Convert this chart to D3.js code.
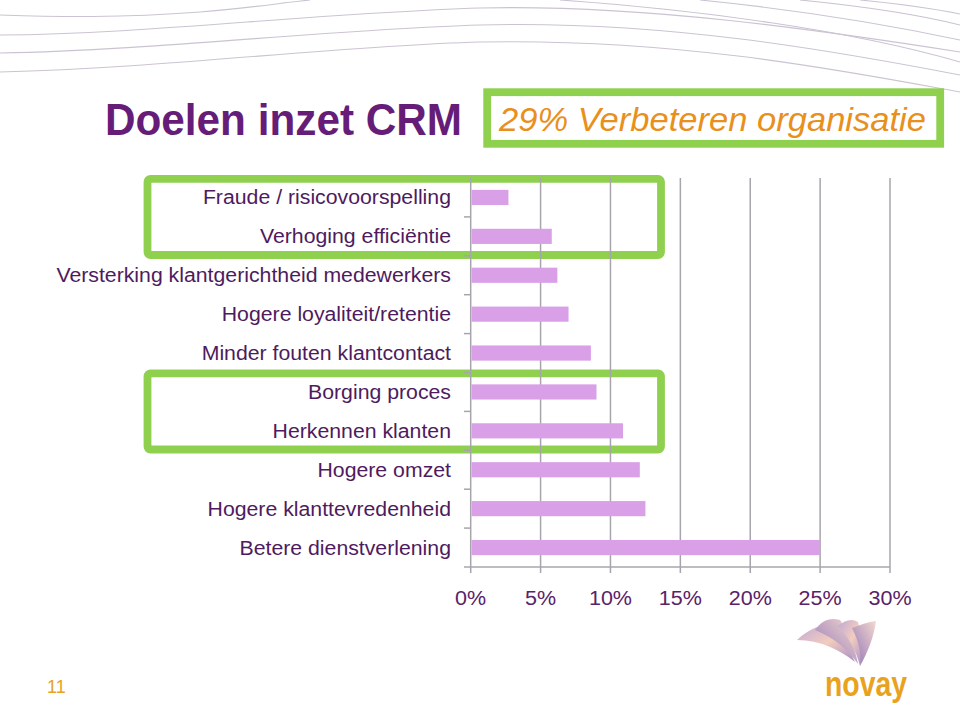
<!DOCTYPE html>
<html><head><meta charset="utf-8">
<script src="https://cdn.jsdelivr.net/npm/d3@7"></script>
<style>
html,body{margin:0;padding:0;background:#fff;}
svg{display:block;font-family:"Liberation Sans",Arial,sans-serif;}
</style></head>
<body>
<svg id="c" width="960" height="707"></svg>
<script>
// ---- data ----
const categories = [
  "Fraude / risicovoorspelling",
  "Verhoging efficiëntie",
  "Versterking klantgerichtheid medewerkers",
  "Hogere loyaliteit/retentie",
  "Minder fouten klantcontact",
  "Borging proces",
  "Herkennen klanten",
  "Hogere omzet",
  "Hogere klanttevredenheid",
  "Betere dienstverlening"
];
const values = [2.7, 5.8, 6.2, 7.0, 8.6, 9.0, 10.9, 12.1, 12.5, 25.0];
const xTicks = [0, 5, 10, 15, 20, 25, 30];
const highlightGroups = [
  ["Fraude / risicovoorspelling", "Verhoging efficiëntie"],
  ["Borging proces", "Herkennen klanten"]
];
const title = "Doelen inzet CRM";
const subtitle = "29% Verbeteren organisatie";
const pageNumber = "11";
const logoText = "novay";

// ---- drawing ----
const svg = d3.select("#c");
const purpleText = "#4e1b5e";
const green = "#8fd14f";
const gridCol = "#a8a4ac";

// stretch text horizontally to match the wide rendering of the original
function stretch(sel, factor) {
  sel.each(function () {
    const w = this.getComputedTextLength();
    d3.select(this).attr("textLength", w * factor).attr("lengthAdjust", "spacingAndGlyphs");
  });
}

// decorative background curves
const deco = svg.append("g").attr("fill", "none").attr("stroke", "#cbc3d2").attr("stroke-width", 1.1);
[
  "M0,15 C60,17 120,18 200,12 C250,8 280,3 310,0",
  "M0,35 C150,34 300,14 480,8 C640,4 820,30 960,52",
  "M0,53 C160,50 320,30 480,25 C660,20 830,50 960,75",
  "M0,72 C170,68 330,46 480,42 C680,38 850,72 960,92",
  "M560,0 C700,10 850,30 960,62",
  "M700,0 C800,10 890,25 960,40",
  "M800,0 C860,6 920,15 960,25",
  "M860,0 C900,4 935,9 960,14"
].forEach(d => deco.append("path").attr("d", d));

// Title
svg.append("text")
  .attr("x", 105).attr("y", 135)
  .attr("font-size", 45).attr("font-weight", "bold")
  .attr("fill", "#661d78")
  .attr("textLength", 357).attr("lengthAdjust", "spacingAndGlyphs")
  .text(title);

// Subtitle box
svg.append("rect")
  .attr("x", 487.2).attr("y", 92.2).attr("width", 453).attr("height", 51.6)
  .attr("fill", "#fff").attr("stroke", green).attr("stroke-width", 7.8);
svg.append("text")
  .attr("x", 499).attr("y", 131)
  .attr("font-size", 34).attr("font-style", "italic")
  .attr("fill", "#e8901c")
  .attr("textLength", 427).attr("lengthAdjust", "spacingAndGlyphs")
  .text(subtitle);

// Scales
const x = d3.scaleLinear().domain([0, 30]).range([470.7, 890]);
const y = d3.scaleBand().domain(categories).range([178, 567]).paddingInner(0.61).paddingOuter(0.305);
const step = y.step();
const yTop = 178, yBot = 567;

// gridlines
svg.append("g").selectAll("line").data(xTicks).join("line")
  .attr("x1", d => x(d)).attr("x2", d => x(d))
  .attr("y1", yTop).attr("y2", yBot)
  .attr("stroke", gridCol).attr("stroke-width", 1.5);

// bottom axis line + tick marks
svg.append("line").attr("x1", 464).attr("x2", x(30)).attr("y1", yBot).attr("y2", yBot)
  .attr("stroke", gridCol).attr("stroke-width", 1.5);
svg.append("g").selectAll("line").data(xTicks).join("line")
  .attr("x1", d => x(d)).attr("x2", d => x(d))
  .attr("y1", yBot).attr("y2", yBot + 6)
  .attr("stroke", gridCol).attr("stroke-width", 1.5);

// category tick marks
svg.append("g").selectAll("line").data(d3.range(1, categories.length)).join("line")
  .attr("x1", 464).attr("x2", x(0))
  .attr("y1", i => yTop + i * step).attr("y2", i => yTop + i * step)
  .attr("stroke", gridCol).attr("stroke-width", 1.5);

// bars
svg.append("g").selectAll("rect").data(categories).join("rect")
  .attr("x", x(0) + 0.8)
  .attr("y", d => y(d))
  .attr("width", (d, i) => x(values[i]) - x(0) - 0.8)
  .attr("height", y.bandwidth())
  .attr("fill", "#d9a0e7");

// highlight boxes
highlightGroups.forEach(g => {
  const top = y(g[0]) - y.step() * y.paddingOuter();
  const bot = y(g[g.length - 1]) + y.bandwidth() + y.step() * y.paddingInner() / 2;
  svg.insert("rect", "g")
    .attr("x", 147.5).attr("y", top + 0.8)
    .attr("width", 513.5).attr("height", bot - top - 1.6)
    .attr("rx", 3)
    .attr("fill", "none").attr("stroke", green).attr("stroke-width", 7.8);
});

// category labels
svg.append("g").selectAll("text").data(categories).join("text")
  .attr("x", 451)
  .attr("y", d => y(d) + y.bandwidth() / 2 + 7)
  .attr("text-anchor", "end")
  .attr("font-size", 19.5)
  .attr("fill", purpleText)
  .text(d => d)
  .call(stretch, 1.09);

// x tick labels
svg.append("g").selectAll("text").data(xTicks).join("text")
  .attr("x", d => x(d))
  .attr("y", 605)
  .attr("text-anchor", "middle")
  .attr("font-size", 20.5)
  .attr("fill", "#5a2268")
  .text(d => d + "%")
  .call(stretch, 1.05);

// page number
svg.append("text").attr("x", 47).attr("y", 693)
  .attr("font-size", 18).attr("fill", "#e8a21e").text(pageNumber);

// logo
const defs = svg.append("defs");
const grad = defs.append("linearGradient").attr("id", "lg").attr("x1", "0").attr("y1", "0").attr("x2", "1").attr("y2", "1");
grad.append("stop").attr("offset", "0").attr("stop-color", "#b79ad0");
grad.append("stop").attr("offset", "0.5").attr("stop-color", "#f0c4b4");
grad.append("stop").attr("offset", "1").attr("stop-color", "#9b7bbf");
const grad2 = defs.append("linearGradient").attr("id", "lg2").attr("x1", "0").attr("y1", "1").attr("x2", "1").attr("y2", "0");
grad2.append("stop").attr("offset", "0").attr("stop-color", "#7c5aa8");
grad2.append("stop").attr("offset", "1").attr("stop-color", "#f3d3c8");
const logo = svg.append("g").attr("opacity", 0.85);
[
  ["M797,640 C810,628 825,622 838,626 C846,640 850,652 855,662 C840,650 820,640 797,640 Z", "url(#lg)"],
  ["M815,630 C822,620 830,617 840,620 C850,635 855,648 858,664 C848,650 835,638 815,630 Z", "url(#lg2)"],
  ["M838,626 C845,620 852,618 858,622 C862,636 864,650 860,666 C856,650 848,636 838,626 Z", "url(#lg)"],
  ["M852,628 C860,625 868,622 876,621 C874,636 868,652 860,666 C862,652 858,640 852,628 Z", "url(#lg2)"]
].forEach(([d, f]) => logo.append("path").attr("d", d).attr("fill", f));
svg.append("text").attr("x", 825).attr("y", 696)
  .attr("font-size", 35).attr("font-weight", "bold").attr("fill", "#e8a21e")
  .attr("textLength", 82).attr("lengthAdjust", "spacingAndGlyphs")
  .text(logoText);
</script>
</body></html>
